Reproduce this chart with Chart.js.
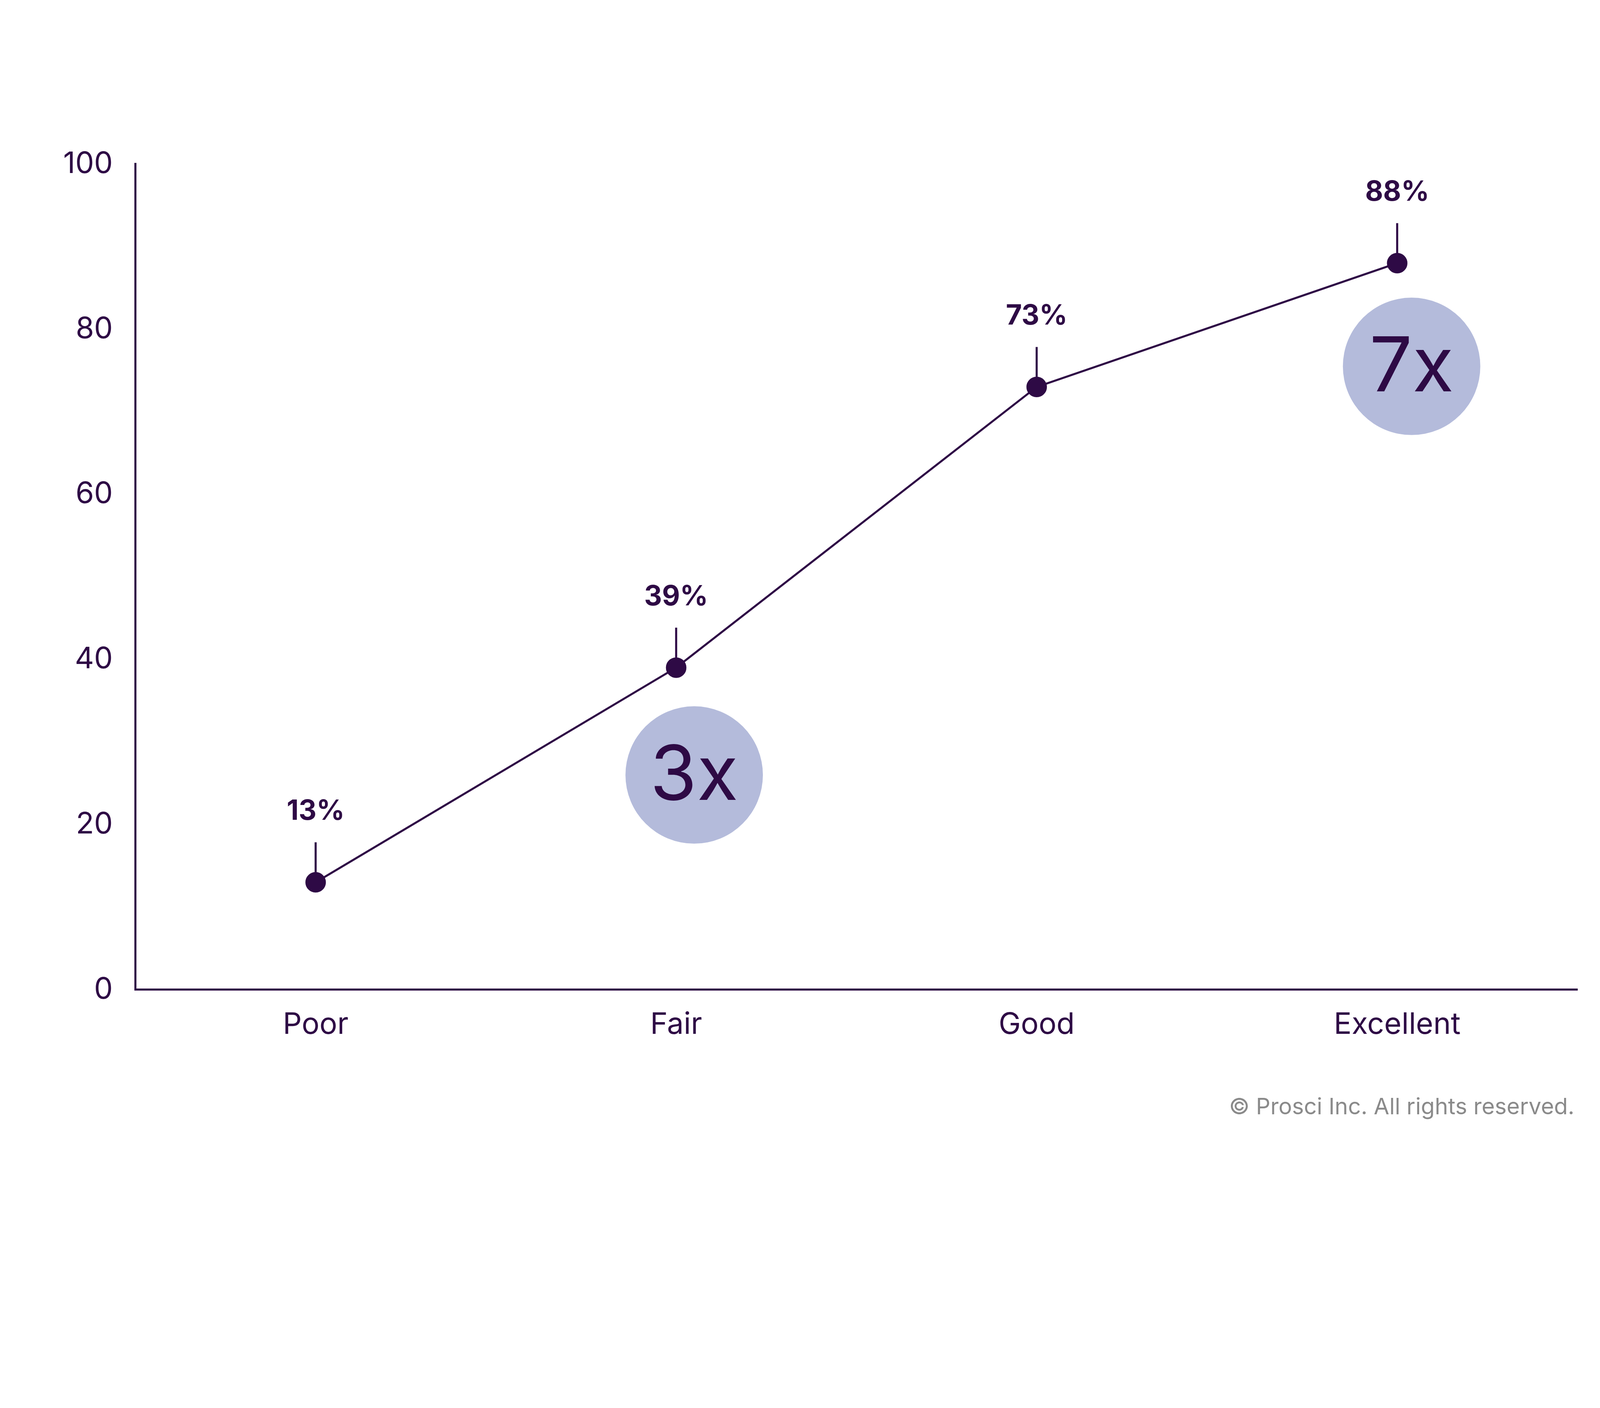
<!DOCTYPE html>
<html>
<head>
<meta charset="utf-8">
<script src="https://cdn.jsdelivr.net/npm/chart.js@4/dist/chart.umd.min.js"></script>
<style>
html, body { margin: 0; padding: 0; background: #fff; overflow: hidden; }
canvas { display: block; }
</style>
</head>
<body>
<canvas id="adoptionChart"></canvas>
<script>
var categories = ['Poor', 'Fair', 'Good', 'Excellent'];
var successValues = [13, 39, 73, 88];
var valueLabels = ['13%', '39%', '73%', '88%'];
var yTicks = [0, 20, 40, 60, 80, 100];
// bubble notes: [category index offset, y value, text]
var bubbleNotes = [[1.05, 26, '3x'], [3.04, 75.5, '7x']];

var ink = '#2e0a45';
var fontFace = 'Inter, "Open Sans", sans-serif';

// everything below is measured on a 1560 px wide copy of the reference
var W = window.innerWidth, H = window.innerHeight;
var s = W / 1560;
var canvas = document.getElementById('adoptionChart');
canvas.style.width = W + 'px';
canvas.style.height = H + 'px';

var annotationsPlugin = {
    id: 'annotations',
    afterDatasetsDraw: function(chart) {
        var ctx = chart.ctx;
        var xs = chart.scales.x, ys = chart.scales.y;
        ctx.save();
        chart.getDatasetMeta(0).data.forEach(function(pt, i) {
            ctx.strokeStyle = ink;
            ctx.lineWidth = 2 * s;
            ctx.beginPath();
            ctx.moveTo(pt.x, pt.y - 9 * s);
            ctx.lineTo(pt.x, pt.y - 39 * s);
            ctx.stroke();
            ctx.fillStyle = ink;
            ctx.font = 'bold ' + (27 * s) + 'px ' + fontFace;
            ctx.textAlign = 'center';
            ctx.textBaseline = 'middle';
            ctx.fillText(valueLabels[i], pt.x, pt.y - 69 * s);
        });
        bubbleNotes.forEach(function(b) {
            var x = xs.getPixelForValue(b[0]);
            var y = ys.getPixelForValue(b[1]);
            ctx.fillStyle = '#b4bbdb';
            ctx.beginPath();
            ctx.arc(x, y, 67 * s, 0, Math.PI * 2);
            ctx.fill();
            ctx.fillStyle = ink;
            ctx.font = (74 * s) + 'px ' + fontFace;
            ctx.textAlign = 'center';
            ctx.textBaseline = 'middle';
            ctx.fillText(b[2], x, y + 2 * s);
        });
        ctx.fillStyle = '#8a8a8a';
        ctx.font = (22 * s) + 'px ' + fontFace;
        ctx.textAlign = 'right';
        ctx.textBaseline = 'middle';
        ctx.fillText('\u00a9 Prosci Inc. All rights reserved.', 1535 * s, 1080 * s);
        ctx.restore();
    }
};

var cont = canvas.getContext('2d');
var myChart = new Chart(cont, {
    type: 'line',
    data: {
        labels: categories,
        datasets: [{
            label: '',
            data: successValues,
            borderColor: ink,
            backgroundColor: ink,
            borderWidth: 2 * s,
            pointRadius: 9 * s,
            pointHoverRadius: 9 * s,
            tension: 0
        }]
    },
    options: {
        responsive: false,
        animation: false,
        layout: {
            padding: { top: 160 * s, right: W - 1538 * s, bottom: H - 965 * s - 65 * s, left: 0 }
        },
        scales: {
            x: {
                offset: true,
                grid: { display: false, drawTicks: false },
                border: { color: ink, width: 2 * s },
                ticks: { color: ink, font: { size: 29 * s, family: fontFace }, padding: 17 * s },
                afterFit: function(scale) { scale.height = 65 * s; }
            },
            y: {
                min: 0,
                max: 100,
                afterBuildTicks: function(scale) {
                    scale.ticks = yTicks.map(function(v) { return { value: v }; });
                },
                grid: { display: false, drawTicks: false },
                border: { color: ink, width: 2 * s },
                ticks: { color: ink, font: { size: 29 * s, family: fontFace }, padding: 22 * s },
                afterFit: function(scale) { scale.width = 132 * s; }
            }
        },
        plugins: {
            legend: { display: false },
            tooltip: { enabled: false }
        }
    },
    plugins: [annotationsPlugin]
});
</script>
</body>
</html>
